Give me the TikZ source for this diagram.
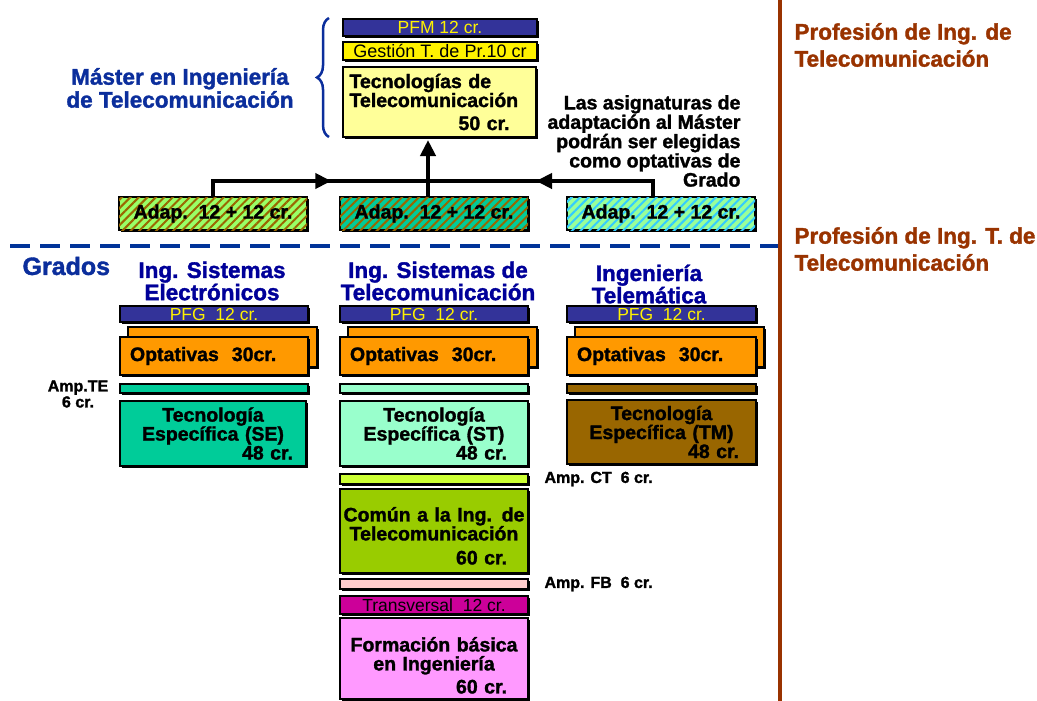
\documentclass[tikz,border=0pt]{standalone}
\usepackage{fontspec}
\setmainfont{Liberation Sans}[BoldFeatures={FakeBold=1.5}]
\usetikzlibrary{arrows.meta,calc,patterns.meta,decorations.pathreplacing,shadows}
\definecolor{pfgblue}{HTML}{333399}
\definecolor{lightyel}{HTML}{FFFF99}
\definecolor{optorange}{HTML}{FF9900}
\definecolor{seteal}{HTML}{00CC99}
\definecolor{mint}{HTML}{99FFCC}
\definecolor{tmbrown}{HTML}{996600}
\definecolor{ampct}{HTML}{CCFF33}
\definecolor{comun}{HTML}{99CC00}
\definecolor{ampfb}{HTML}{FFCCCC}
\definecolor{transv}{HTML}{CC0099}
\definecolor{formac}{HTML}{FF99FF}
\definecolor{mblue}{HTML}{0B2E9C}
\definecolor{titblue}{HTML}{000099}
\definecolor{dblue}{HTML}{003399}
\definecolor{profbrown}{HTML}{993300}
\definecolor{adLfill}{HTML}{99FF66}
\definecolor{adMfill}{HTML}{00CC99}
\definecolor{adRfill}{HTML}{99FF99}
\definecolor{hatchbrown}{HTML}{996600}
\definecolor{hatchcyan}{HTML}{33CCFF}
\newcommand\rgap[1]{\hbox to #1{}}
\begin{document}
\begin{tikzpicture}[x=1pt,y=-1pt,
  bx/.style={draw=black, line width=1.2pt, anchor=north west, inner sep=0pt, outer sep=0pt,
    drop shadow={shadow xshift=1.6pt,shadow yshift=-1.6pt,fill=black,opacity=1}},
  bigf/.style={font=\fontsize{19.5}{19}\selectfont\bfseries},
  thinf/.style={font=\fontsize{17.5}{17.5}\selectfont},
  ampf/.style={font=\fontsize{16}{16}\selectfont\bfseries},
  titf/.style={font=\fontsize{22.5}{21}\selectfont\bfseries, text=titblue, align=center},
  proff/.style={font=\fontsize{22.5}{27}\selectfont\bfseries, text=profbrown, align=left, anchor=west},
  conn/.style={line width=4pt, black},
  tipst/.style={-{Triangle[length=16pt,width=15pt]}},
  adap/.style={bx, minimum width=188pt, minimum height=33pt, bigf},
  hatch/.style={postaction={pattern={Lines[angle=45,distance=6pt,line width=2pt]}, pattern color=#1}},
]
\fill[white] (0,0) rectangle (1037,701);
\useasboundingbox (0,0) rectangle (1037,701);

% separators
\draw[dblue, line width=3.5pt, dash pattern=on 20pt off 10pt] (10,246) -- (778,246);
\draw[profbrown, line width=4.5pt] (780,0) -- (780,701);

% right texts
\node[proff] (prof1) at (791,45) {Profesión de Ing. de\\Telecomunicación};
\node[proff] (prof2) at (791,249) {Profesión de Ing. T. de\\Telecomunicación};

% master block
\node[bx, fill=pfgblue, minimum width=194pt, minimum height=17pt, thinf, text=yellow] (pfm) at (343,19) {PFM 12 cr.};
\node[bx, fill=yellow, minimum width=194pt, minimum height=18pt, font=\fontsize{18}{18}\selectfont] (ges) at (343,42) {Gestión T. de Pr.10 cr};
\node[bx, fill=lightyel, minimum width=193pt, minimum height=70pt, bigf, text width=180pt, align=left] (tec) at (343,67)
  {Tecnologías de\\Telecomunicación\\[4pt]\hfill 50 cr.\rgap{20pt}};
\draw[mblue, line width=2.5pt, decorate, decoration={brace, amplitude=12pt}] ([xshift=-14pt]tec.south west) -- ([xshift=-14pt,yshift=1pt]pfm.north west);
\node[font=\fontsize{22.5}{23}\selectfont\bfseries, text=mblue, align=center] (master) at (180,88) {Máster en Ingeniería\\de Telecomunicación};

\node[font=\fontsize{19.5}{18}\selectfont\bfseries, align=right, anchor=east] (note) at (744,141)
  {Las asignaturas de\\adaptación al Máster\\podrán ser elegidas\\como optativas de\\Grado};

% adaptation boxes
\node[adap, fill=adLfill, hatch=hatchbrown] (adL) at (119,197) {Adap.\ \ 12 + 12 cr.};
\node[adap, fill=adMfill, hatch=hatchbrown] (adM) at (340,197) {Adap.\ \ 12 + 12 cr.};
\node[adap, fill=adRfill, hatch=hatchcyan] (adR) at (567,197) {Adap.\ \ 12 + 12 cr.};

\coordinate (j) at (428,181);
\draw[conn] (adL.north) |- (j);
\draw[conn] ([xshift=-8pt]adR.north) |- (j);
\draw[conn, tipst, shorten >=3pt] (adM.north -| j) -- (j |- tec.south);
\draw[conn, tipst] (adL.north |- j) -- ($(adL.north |- j)!0.55!(j)$);
\draw[conn, tipst] ([xshift=-8pt]adR.north |- j) -- ($([xshift=-8pt]adR.north |- j)!0.52!(j)$);

% Grados
\node[font=\fontsize{25}{25}\selectfont\bfseries, text=mblue, anchor=west] (grados) at (19,266) {Grados};

% titles
\node[titf] (tL) at (212,281) {Ing. Sistemas\\Electrónicos};
\node[titf] (tM) at (438,281) {Ing. Sistemas de\\Telecomunicación};
\node[titf] (tR) at (649,284) {Ingeniería\\Telemática};

% left column
\node[bx, fill=pfgblue, minimum width=188pt, minimum height=16pt, thinf, text=yellow] (pfgL) at (120,306) {PFG\ \ 12 cr.};
\node[bx, fill=optorange, minimum width=189pt, minimum height=40pt] (optbL) at (128,327) {};
\node[bx, fill=optorange, minimum width=188pt, minimum height=38pt, bigf, text width=168pt, align=left] (optL) at (120,337) {Optativas\ \ 30cr.};
\node[bx, fill=seteal, minimum width=188pt, minimum height=9pt] (ampL) at (120,384) {};
\node[bx, fill=seteal, minimum width=186pt, minimum height=65pt, bigf, text width=176pt, align=center] (tecL) at (120,401)
  {Tecnología\\Específica (SE)\\\hfill 48 cr.\rgap{8pt}};
\node[ampf, align=center] (lte) at (78,394) {Amp.TE\\6 cr.};

% middle column
\node[bx, fill=pfgblue, minimum width=188pt, minimum height=16pt, thinf, text=yellow] (pfgM) at (340,306) {PFG\ \ 12 cr.};
\node[bx, fill=optorange, minimum width=189pt, minimum height=40pt] (optbM) at (348,327) {};
\node[bx, fill=optorange, minimum width=188pt, minimum height=38pt, bigf, text width=168pt, align=left] (optM) at (340,337) {Optativas\ \ 30cr.};
\node[bx, fill=mint, minimum width=188pt, minimum height=9pt] (ampM) at (340,384) {};
\node[bx, fill=mint, minimum width=188pt, minimum height=65pt, bigf, text width=180pt, align=center] (tecM) at (340,401)
  {Tecnología\\Específica (ST)\\\hfill 48 cr.\rgap{17pt}};
\node[bx, fill=ampct, minimum width=188pt, minimum height=10pt] (ampCT) at (340,474) {};
\node[ampf, anchor=west] (lct) at (541,479) {Amp. CT\ \ 6 cr.};
\node[bx, fill=comun, minimum width=188pt, minimum height=84pt, bigf, text width=184pt, align=center] (com) at (340,489)
  {\rule{0pt}{24pt}Común a la Ing. de\\Telecomunicación\\[5pt]\hfill 60 cr.\rgap{19pt}};
\node[bx, fill=ampfb, minimum width=188pt, minimum height=10pt] (ampFB) at (340,579) {};
\node[ampf, anchor=west] (lfb) at (541,584) {Amp. FB\ \ 6 cr.};
\node[bx, fill=transv, minimum width=188pt, minimum height=18pt, thinf] (trv) at (340,596) {Transversal\ \ 12 cr.};
\node[bx, fill=formac, minimum width=188pt, minimum height=81pt, bigf, text width=180pt, align=center] (fb) at (340,618)
  {\rule{0pt}{28pt}Formación básica\\en Ingeniería\\[4pt]\hfill 60 cr.\rgap{17pt}};

% right column
\node[bx, fill=pfgblue, minimum width=189pt, minimum height=16pt, thinf, text=yellow] (pfgR) at (567,306) {PFG\ \ 12 cr.};
\node[bx, fill=optorange, minimum width=189pt, minimum height=40pt] (optbR) at (575,327) {};
\node[bx, fill=optorange, minimum width=189pt, minimum height=38pt, bigf, text width=169pt, align=left] (optR) at (567,337) {Optativas\ \ 30cr.};
\node[bx, fill=tmbrown, minimum width=189pt, minimum height=9pt] (ampR) at (567,384) {};
\node[bx, fill=tmbrown, minimum width=189pt, minimum height=64pt, bigf, text width=179pt, align=center] (tecR) at (567,400)
  {Tecnología\\Específica (TM)\\\hfill 48 cr.\rgap{12pt}};
\end{tikzpicture}
\end{document}
